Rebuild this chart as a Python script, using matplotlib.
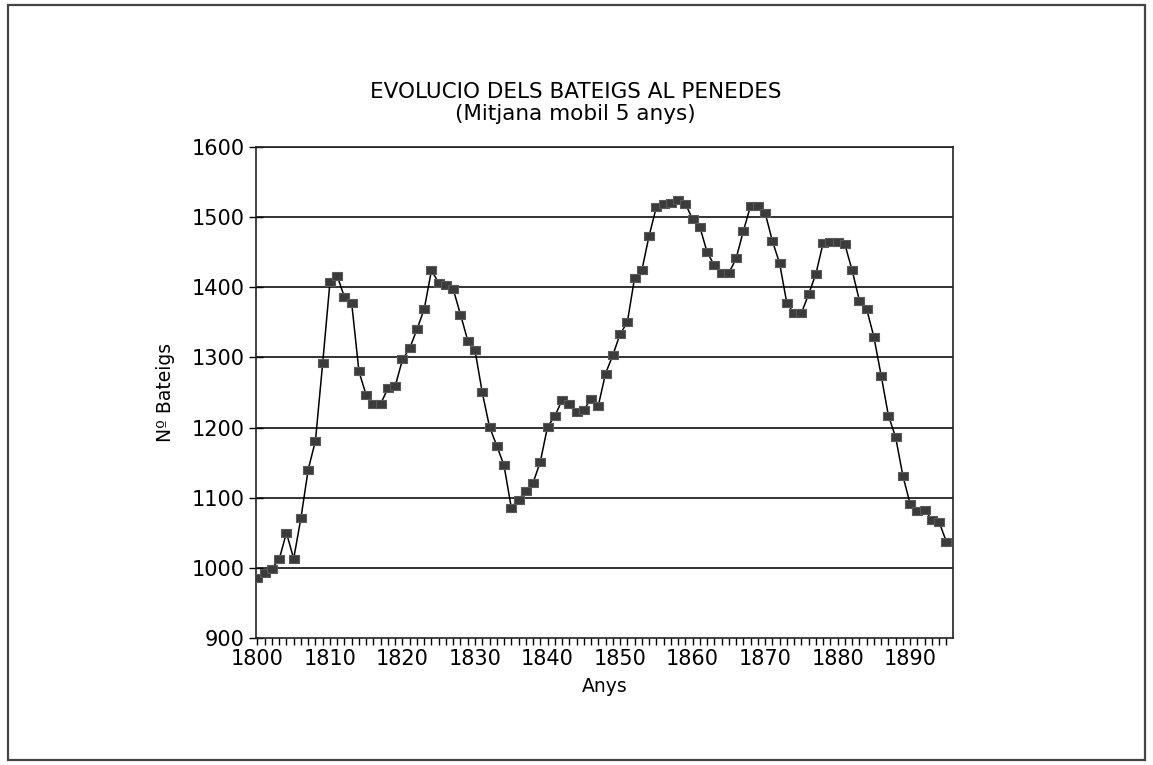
import matplotlib
matplotlib.use("Agg")
import matplotlib.pyplot as plt
from matplotlib.patches import Rectangle
from matplotlib.ticker import MultipleLocator

# moving average of baptisms, one value per year 1800-1895
years = list(range(1800, 1896))
bateigs = [
    985, 992, 999, 1012, 1050, 1013, 1071, 1140, 1181, 1292,
    1407, 1416, 1386, 1377, 1280, 1246, 1234, 1234, 1256, 1259,
    1297, 1313, 1340, 1369, 1424, 1406, 1403, 1397, 1361, 1324,
    1310, 1250, 1201, 1174, 1146, 1086, 1097, 1110, 1121, 1151,
    1201, 1216, 1239, 1234, 1222, 1225, 1241, 1231, 1277, 1303,
    1333, 1350, 1413, 1424, 1473, 1514, 1519, 1520, 1525, 1519,
    1497, 1486, 1450, 1431, 1420, 1420, 1441, 1480, 1516, 1516,
    1506, 1466, 1434, 1377, 1363, 1363, 1390, 1419, 1463, 1465,
    1464, 1461, 1424, 1381, 1369, 1329, 1274, 1217, 1186, 1131,
    1091, 1081, 1083, 1068, 1065, 1037,
]
y_ticks = [900, 1000, 1100, 1200, 1300, 1400, 1500, 1600]
x_ticks = list(range(1800, 1891, 10))

# slightly wide box marker, like the old plotter's
box = [(-1, -0.72), (1, -0.72), (1, 0.72), (-1, 0.72), (-1, -0.72)]

fig = plt.figure(figsize=(11.53, 7.65), dpi=100)
fig.patch.set_facecolor("white")

# outer frame of the page
fig.patches.append(Rectangle((0.007, 0.007), 0.986, 0.986, transform=fig.transFigure,
                             fill=False, edgecolor="#444444", linewidth=1.6))

ax = fig.add_axes([0.222, 0.166, 0.6045, 0.642])
ax.plot(years, bateigs, color="black", linewidth=1.1, zorder=3)
ax.plot(years, bateigs, linestyle="none", marker=box, markersize=7.8,
        markerfacecolor="#3b3b3b", markeredgecolor="#5a5a5a", markeredgewidth=0.8, zorder=4)

ax.set_xlim(1799.8, 1895.9)
ax.set_ylim(900, 1600)
ax.set_xticks(x_ticks)
ax.xaxis.set_minor_locator(MultipleLocator(1))
ax.set_yticks(y_ticks)
for y in y_ticks[1:]:
    ax.axhline(y, color="#222222", linewidth=1.3, zorder=1)

ax.tick_params(axis="x", which="both", direction="out", length=5, width=1, labelsize=15, pad=3)
ax.tick_params(axis="y", direction="inout", length=10, width=1, labelsize=15, pad=3)
for s in ax.spines.values():
    s.set_linewidth(1.2)
    s.set_color("#222222")

ax.set_xlabel("Anys", fontsize=13.5, labelpad=6)
ax.set_ylabel("Nº Bateigs", fontsize=13.5, labelpad=12)

fig.text(0.499, 0.865, "EVOLUCIO DELS BATEIGS AL PENEDES\n(Mitjana mobil 5 anys)",
         ha="center", va="center", fontsize=15.5, linespacing=1.15)

fig.savefig("out.png", dpi=100)
